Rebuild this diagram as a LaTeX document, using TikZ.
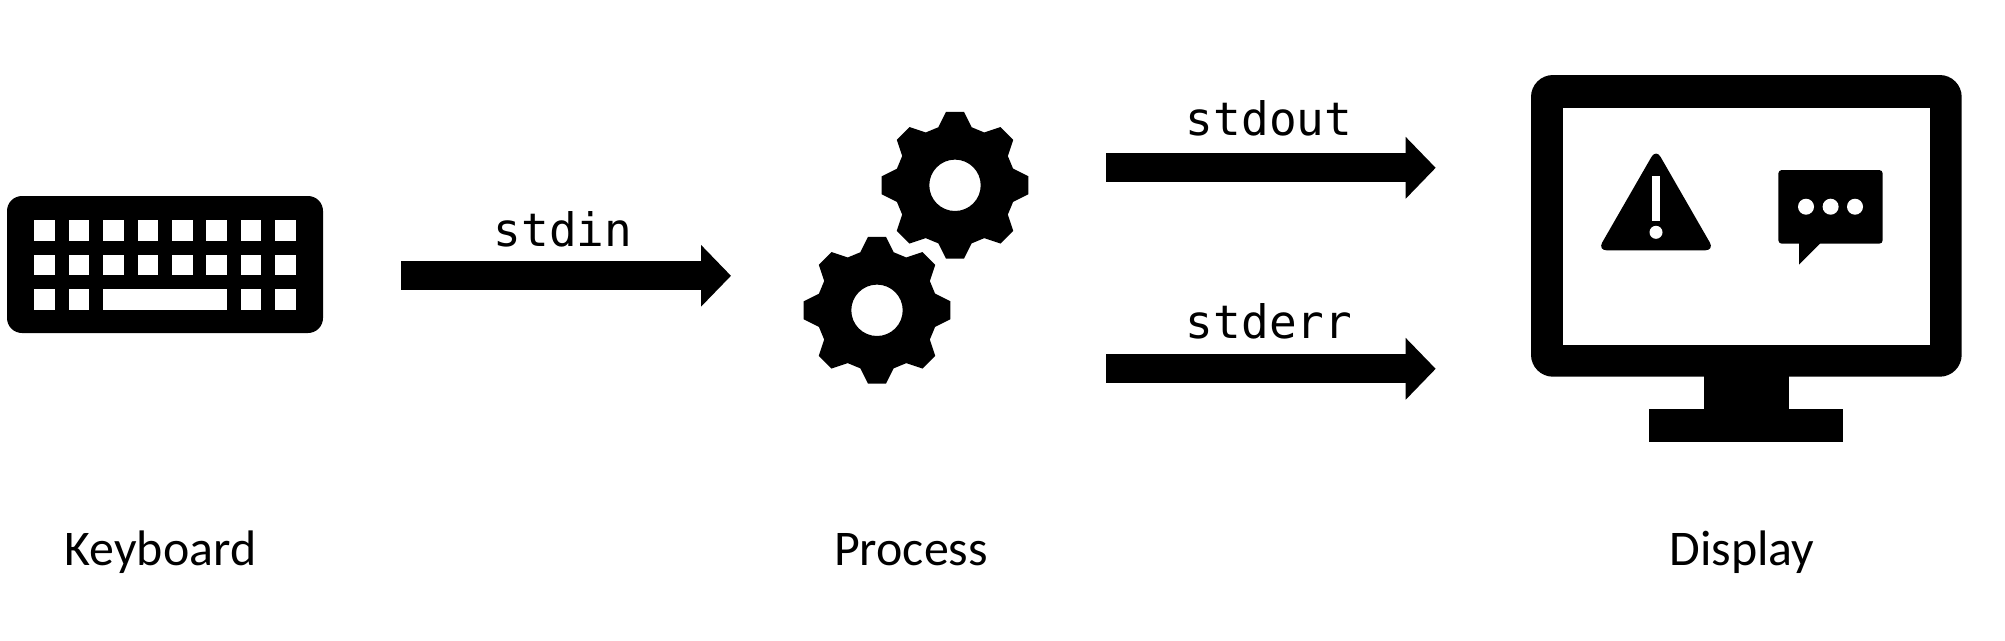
\documentclass[tikz,border=0pt]{standalone}
\usepackage{fontspec}
\setmainfont{Carlito}
\setmonofont{DejaVu Sans Mono}
\usetikzlibrary{arrows.meta}
\tikzset{
  ink/.style={fill=black,draw=none},
  hole/.style={fill=white,draw=none},
  name label/.style={anchor=base,inner sep=0pt,font=\fontsize{28.4pt}{30pt}\selectfont},
  stream label/.style={anchor=base,inner sep=0pt,font=\ttfamily\fontsize{26.2pt}{30pt}\selectfont},
  block arrow/.style={draw=black,line width=0.58cm,-{Triangle[length=0.6cm,width=1.2cm]}},
  gear/.pic={
    \fill[ink,even odd rule] (97:73.9)
      \foreach \a in {90,45,...,-225}{ -- (\a+7:73.9) -- (\a-7:73.9) -- (\a-16:60.4) -- (\a-29:60.4) }
      -- cycle (0,0) circle[radius=25.7];
  }
}
\begin{document}
\begin{tikzpicture}[x=0.02cm,y=-0.02cm]
\path[use as bounding box,fill=white] (0,0) rectangle (2005,640);

% keyboard
\fill[ink,rounded corners=0.3cm] (7,196) rectangle (323,333);
\foreach \r/\y in {1/220.3,2/254.7}{
  \foreach \c in {0,...,7}{
    \fill[hole] (34.3+34.4*\c,\y) rectangle +(20.7,20.7);
  }
}
\foreach \c in {0,1,6,7}{
  \fill[hole] (34.3+34.4*\c,289) rectangle +(20.7,20.7);
}
\fill[hole] (103,289) rectangle (227,309.7);

% gears
\pic at (955,185.3) {gear};
\pic at (877,310.3) {gear};

% monitor
\fill[ink,rounded corners=0.44cm] (1531,75) rectangle (1961.7,376.7);
\fill[hole] (1563.3,107.7) rectangle (1929.7,344.7);
\fill[ink] (1703.7,370) rectangle (1789.3,410);
\fill[ink] (1649.3,409.3) rectangle (1843.3,441.7);

% warning sign
\fill[ink,rounded corners=0.18cm] (1597.7,250.3) -- (1656,149) -- (1714.3,250.3) -- cycle;
\fill[hole] (1652,176.3) rectangle (1660,221);
\fill[hole] (1656,232.3) circle[radius=6.5];

% speech bubble
\fill[ink,rounded corners=0.07cm] (1778.3,170) rectangle (1882.7,243.7);
\fill[ink] (1799,240) -- (1799,264.7) -- (1820,243.7) -- (1820,240) -- cycle;
\foreach \x in {1806,1830.6,1855}{
  \fill[hole] (\x,206.7) circle[radius=8];
}

% arrows
\coordinate (inA) at (401,275.8);
\coordinate (inB) at (731,275.8);
\coordinate (outA) at (1106,167.8);
\coordinate (outB) at (1435.7,167.8);
\coordinate (errA) at (1106,368.8);
\coordinate (errB) at (1435.7,368.8);
\draw[block arrow] (inA) -- (inB);
\draw[block arrow] (outA) -- (outB);
\draw[block arrow] (errA) -- (errB);

% labels
\node[stream label] (stdin) at (563,246) {stdin};
\node[stream label] (stdout) at (1269,135) {stdout};
\node[stream label] (stderr) at (1269,338.3) {stderr};
\node[name label] (keyboard) at (160.5,565) {Keyboard};
\node[name label] (process) at (911,565) {Process};
\node[name label] (display) at (1742,565) {Display};
\end{tikzpicture}
\end{document}
